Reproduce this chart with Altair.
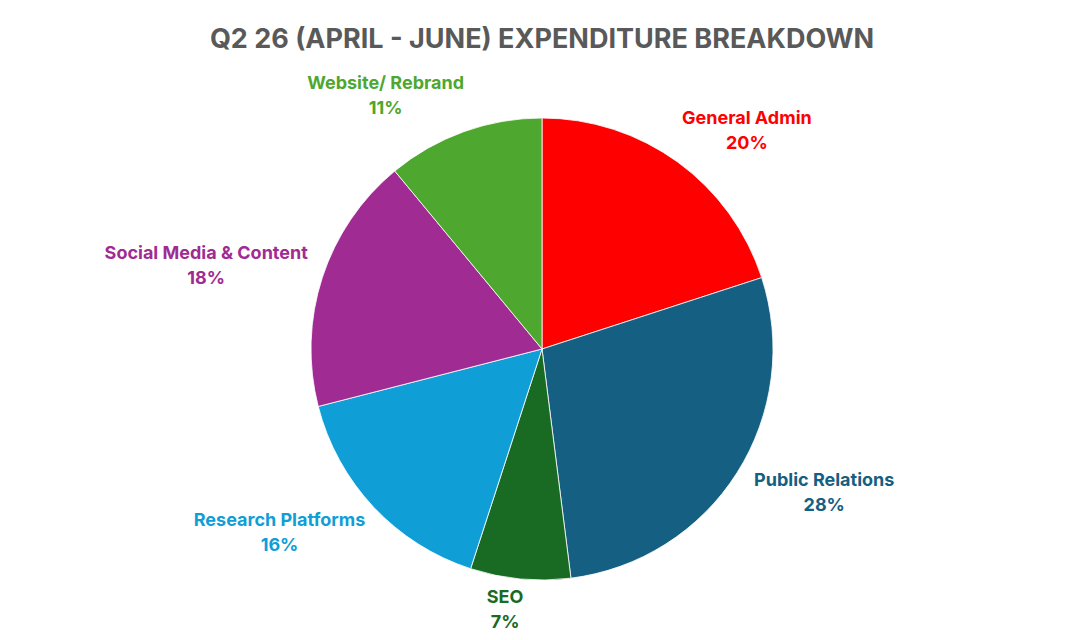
import altair as alt
import pandas as pd

# Slices in clockwise order starting at 12 o'clock
categories = ["General Admin", "Public Relations", "SEO", "Research Platforms",
              "Social Media & Content", "Website/ Rebrand"]
shares = [20, 28, 7, 16, 18, 11]
colours = ["#FF0000", "#156082", "#196B24", "#0F9ED5", "#A02B93", "#4EA72E"]

df = pd.DataFrame({
    "category": categories,
    "share": shares,
    "order": list(range(len(categories))),
})

CX, CY, R = 534, 341, 231
FONT = "Inter"

colour_scale = alt.Scale(domain=categories, range=colours)

pie = alt.Chart(df).mark_arc(
    radius=R, stroke="white", strokeWidth=0.8
).encode(
    theta=alt.Theta("share:Q", stack=True),
    order=alt.Order("order:Q"),
    color=alt.Color("category:N", scale=colour_scale, legend=None),
    x=alt.value(CX),
    y=alt.value(CY),
)

# labels just outside the rim, text pushed sideways away from the pie;
# kept above the bottom edge so the lowest one is not clipped
labels = alt.Chart(df).transform_window(
    cum="sum(share)", sort=[alt.SortField("order")]
).transform_joinaggregate(
    total="sum(share)"
).transform_calculate(
    mid="(datum.cum - datum.share / 2) / datum.total * 2 * PI",
    txt="datum.category + '\\n' + datum.share + '%'",
    w="length(datum.category) * 9",
).transform_calculate(
    px=f"{CX} + {R + 18} * sin(datum.mid) + (sin(datum.mid) >= 0 ? 1 : -1) * datum.w / 2",
    py=f"min({CY} - {R + 18} * cos(datum.mid) - cos(datum.mid) * 20, 602)",
).mark_text(
    font=FONT, fontSize=18, fontWeight="bold", lineBreak="\n",
    lineHeight=25, align="center", baseline="middle", dy=-12
).encode(
    x=alt.X("px:Q", scale=None),
    y=alt.Y("py:Q", scale=None),
    text="txt:N",
    color=alt.Color("category:N", scale=colour_scale, legend=None),
)

chart = alt.layer(pie, labels).properties(
    width=1068,
    height=624,
    padding=0,
    autosize=alt.AutoSizeParams(type="none"),
    title=alt.Title(
        "Q2 26 (APRIL - JUNE) EXPENDITURE BREAKDOWN",
        font=FONT, fontSize=27, fontWeight="bold", color="#595959",
        anchor="middle", offset=-46,
    ),
).configure_view(stroke=None)

chart.save("out.html", embed_options={"renderer": "svg", "actions": False})
